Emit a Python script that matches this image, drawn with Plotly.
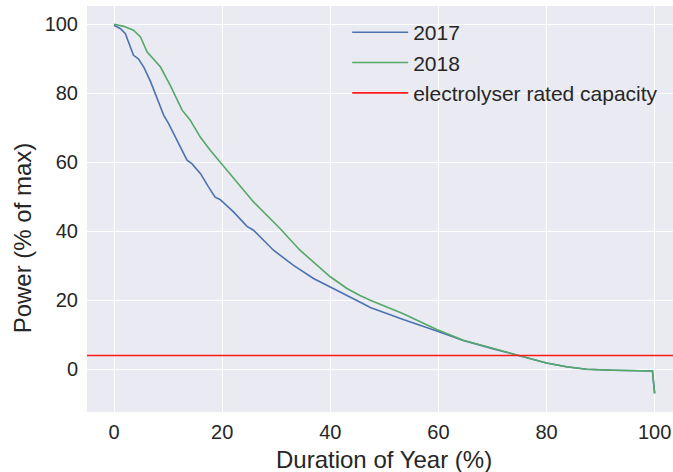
import plotly.graph_objects as go

# ---- data ----
x_2017 = [0, 1.2, 2.1, 3.0, 3.6, 4.5, 5.5, 6.7, 7.9, 9.2, 10.1, 11.6, 13.5, 14.4, 16.0, 17.5,
          18.7, 19.6, 22.1, 24.6, 25.8, 29.5, 33.2, 36.9, 40.0, 43.1, 46.1, 47.4, 53.5, 59.7,
          64.6, 70.2, 75.2, 80.0, 83.7, 87.4, 92.3, 99.6, 100]
y_2017 = [99.7, 98.7, 97.3, 93.4, 91.0, 90.0, 87.6, 83.6, 78.9, 73.6, 71.2, 66.4, 60.6, 59.6,
          56.7, 52.8, 49.9, 49.2, 45.6, 41.4, 40.3, 34.5, 30.1, 26.3, 23.9, 21.4, 19.0, 17.9,
          14.4, 11.1, 8.3, 5.9, 3.9, 1.8, 0.7, 0.0, -0.3, -0.5, -7]

x_2018 = [0, 1.8, 3.6, 4.9, 6.1, 7.0, 8.6, 10.4, 12.6, 14.1, 15.95, 17.8, 19.6, 20.9, 22.7,
          25.8, 30.7, 34.4, 40.0, 43.1, 45.5, 47.4, 53.5, 59.7, 64.6, 70.2, 75.2, 80.0, 83.7,
          87.4, 92.3, 99.6, 100]
y_2018 = [100, 99.4, 98.3, 96.3, 92.0, 90.5, 87.6, 82.3, 75.1, 72.2, 67.3, 63.5, 60.1, 57.7,
          54.3, 48.5, 40.8, 34.5, 26.8, 23.4, 21.4, 20.0, 16.1, 11.5, 8.4, 6.0, 4.0, 1.8, 0.7,
          0.0, -0.3, -0.5, -7]

rated_capacity = 4.0

x_ticks = [0, 20, 40, 60, 80, 100]
y_ticks = [0, 20, 40, 60, 80, 100]
x_range = [-5, 103.4]
y_range = [-12.4, 105.3]

FONT = "Liberation Sans, Arial, sans-serif"
TXT = "#262626"

fig = go.Figure()
fig.add_trace(go.Scatter(x=x_2017, y=y_2017, mode="lines", name="2017",
                         line=dict(color="#4C72B0", width=1.6)))
fig.add_trace(go.Scatter(x=x_2018, y=y_2018, mode="lines", name="2018",
                         line=dict(color="#55A868", width=1.6)))
fig.add_trace(go.Scatter(x=[x_range[0] - 10, x_range[1] + 10], y=[rated_capacity, rated_capacity],
                         mode="lines", name="electrolyser rated capacity",
                         line=dict(color="#FF1A1A", width=1.6)))

fig.update_layout(
    width=673, height=472,
    margin=dict(l=87, r=0, t=6, b=60, autoexpand=False),
    paper_bgcolor="white", plot_bgcolor="#EAEAF2",
    font=dict(family=FONT, color=TXT, size=20),
    showlegend=True,
    legend=dict(x=0.444, y=0.985, xanchor="left", yanchor="top",
                bgcolor="rgba(0,0,0,0)", font=dict(size=21, color=TXT),
                tracegroupgap=0, itemwidth=56),
    annotations=[
        dict(text="Duration of Year (%)", xref="paper", yref="paper", x=0.507, y=-0.118,
             xanchor="center", yanchor="middle", showarrow=False, font=dict(size=24, color=TXT)),
        dict(text="Power (% of max)", xref="paper", yref="paper", x=-0.111, y=0.43,
             xanchor="center", yanchor="middle", textangle=-90, showarrow=False,
             font=dict(size=24, color=TXT)),
    ],
)
fig.update_xaxes(range=x_range, tickvals=x_ticks, showgrid=True, gridcolor="white", gridwidth=1.2,
                 zeroline=False, showline=False, ticks="", tickfont=dict(size=20, color=TXT),
                 ticklabelstandoff=6, automargin=False)
fig.update_yaxes(range=y_range, tickvals=y_ticks, showgrid=True, gridcolor="white", gridwidth=1.2,
                 zeroline=False, showline=False, ticks="", tickfont=dict(size=20, color=TXT),
                 ticklabelstandoff=8, automargin=False)

fig.write_html("out.html", config={"displayModeBar": False},
               post_script="document.body.style.margin='0';document.body.style.overflow='hidden';")
